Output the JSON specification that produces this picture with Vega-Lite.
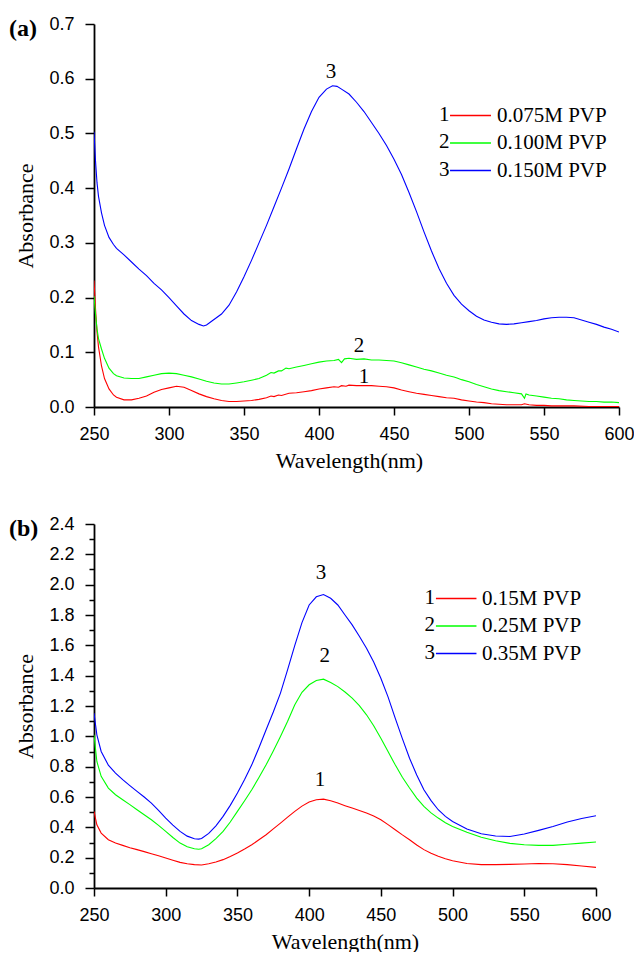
{
  "$schema": "https://vega.github.io/schema/vega-lite/v6.json",
  "background": "white",
  "padding": {"left": 8, "top": 15, "right": 0, "bottom": 0},
  "spacing": 44,
  "config": {
    "view": {"stroke": null},
    "axis": {"grid": false, "domainColor": "black", "domainWidth": 1.8, "tickColor": "black", "tickWidth": 1.5, "labelColor": "black", "labelFont": "Liberation Sans", "labelFontSize": 18, "titleFont": "Liberation Serif", "titleFontSize": 22, "titleFontWeight": "normal", "titleColor": "black", "labelFlush": false, "labelOverlap": false, "labelBound": false},
    "legend": {"labelColor": "black", "labelFont": "Liberation Serif", "labelFontSize": 21, "padding": 0, "rowPadding": 5.5},
    "title": {"font": "Liberation Serif", "fontSize": 24, "fontWeight": "bold", "color": "black", "anchor": "start", "frame": "bounds", "baseline": "middle", "offset": -26, "dx": -6}
  },
  "datasets": {
    "a": [
      {"w":250,"s":"0.075M PVP","a":0.231},{"w":251,"s":"0.075M PVP","a":0.18},{"w":252,"s":"0.075M PVP","a":0.137},{"w":253,"s":"0.075M PVP","a":0.11},{"w":255,"s":"0.075M PVP","a":0.075},{"w":257,"s":"0.075M PVP","a":0.052},{"w":260,"s":"0.075M PVP","a":0.033},{"w":263,"s":"0.075M PVP","a":0.022},{"w":265,"s":"0.075M PVP","a":0.018},{"w":270,"s":"0.075M PVP","a":0.013},{"w":275,"s":"0.075M PVP","a":0.013},{"w":280,"s":"0.075M PVP","a":0.016},{"w":285,"s":"0.075M PVP","a":0.02},{"w":290,"s":"0.075M PVP","a":0.027},{"w":295,"s":"0.075M PVP","a":0.032},{"w":300,"s":"0.075M PVP","a":0.035},{"w":305,"s":"0.075M PVP","a":0.038},{"w":310,"s":"0.075M PVP","a":0.036},{"w":315,"s":"0.075M PVP","a":0.03},{"w":320,"s":"0.075M PVP","a":0.024},{"w":325,"s":"0.075M PVP","a":0.019},{"w":330,"s":"0.075M PVP","a":0.015},{"w":335,"s":"0.075M PVP","a":0.012},{"w":340,"s":"0.075M PVP","a":0.01},{"w":345,"s":"0.075M PVP","a":0.01},{"w":350,"s":"0.075M PVP","a":0.011},{"w":355,"s":"0.075M PVP","a":0.012},{"w":360,"s":"0.075M PVP","a":0.014},{"w":365,"s":"0.075M PVP","a":0.017},{"w":368,"s":"0.075M PVP","a":0.02},{"w":370,"s":"0.075M PVP","a":0.019},{"w":373,"s":"0.075M PVP","a":0.022},{"w":375,"s":"0.075M PVP","a":0.021},{"w":380,"s":"0.075M PVP","a":0.025},{"w":385,"s":"0.075M PVP","a":0.026},{"w":390,"s":"0.075M PVP","a":0.028},{"w":395,"s":"0.075M PVP","a":0.03},{"w":400,"s":"0.075M PVP","a":0.033},{"w":405,"s":"0.075M PVP","a":0.035},{"w":410,"s":"0.075M PVP","a":0.037},{"w":413,"s":"0.075M PVP","a":0.036},{"w":415,"s":"0.075M PVP","a":0.039},{"w":418,"s":"0.075M PVP","a":0.038},{"w":420,"s":"0.075M PVP","a":0.04},{"w":425,"s":"0.075M PVP","a":0.039},{"w":430,"s":"0.075M PVP","a":0.039},{"w":435,"s":"0.075M PVP","a":0.039},{"w":440,"s":"0.075M PVP","a":0.038},{"w":445,"s":"0.075M PVP","a":0.037},{"w":450,"s":"0.075M PVP","a":0.035},{"w":455,"s":"0.075M PVP","a":0.031},{"w":460,"s":"0.075M PVP","a":0.028},{"w":465,"s":"0.075M PVP","a":0.025},{"w":470,"s":"0.075M PVP","a":0.023},{"w":475,"s":"0.075M PVP","a":0.021},{"w":480,"s":"0.075M PVP","a":0.019},{"w":485,"s":"0.075M PVP","a":0.017},{"w":490,"s":"0.075M PVP","a":0.016},{"w":495,"s":"0.075M PVP","a":0.013},{"w":500,"s":"0.075M PVP","a":0.011},{"w":505,"s":"0.075M PVP","a":0.009},{"w":510,"s":"0.075M PVP","a":0.008},{"w":515,"s":"0.075M PVP","a":0.006},{"w":520,"s":"0.075M PVP","a":0.005},{"w":525,"s":"0.075M PVP","a":0.004},{"w":530,"s":"0.075M PVP","a":0.004},{"w":535,"s":"0.075M PVP","a":0.004},{"w":537,"s":"0.075M PVP","a":0.006},{"w":540,"s":"0.075M PVP","a":0.004},{"w":545,"s":"0.075M PVP","a":0.003},{"w":550,"s":"0.075M PVP","a":0.003},{"w":555,"s":"0.075M PVP","a":0.002},{"w":560,"s":"0.075M PVP","a":0.002},{"w":570,"s":"0.075M PVP","a":0.002},{"w":580,"s":"0.075M PVP","a":0.001},{"w":590,"s":"0.075M PVP","a":0.001},{"w":600,"s":"0.075M PVP","a":0.001},
      {"w":250,"s":"0.100M PVP","a":0.203},{"w":251,"s":"0.100M PVP","a":0.17},{"w":252,"s":"0.100M PVP","a":0.143},{"w":253,"s":"0.100M PVP","a":0.125},{"w":255,"s":"0.100M PVP","a":0.106},{"w":257,"s":"0.100M PVP","a":0.089},{"w":260,"s":"0.100M PVP","a":0.071},{"w":263,"s":"0.100M PVP","a":0.061},{"w":265,"s":"0.100M PVP","a":0.057},{"w":270,"s":"0.100M PVP","a":0.053},{"w":275,"s":"0.100M PVP","a":0.052},{"w":280,"s":"0.100M PVP","a":0.052},{"w":285,"s":"0.100M PVP","a":0.055},{"w":290,"s":"0.100M PVP","a":0.058},{"w":295,"s":"0.100M PVP","a":0.061},{"w":300,"s":"0.100M PVP","a":0.062},{"w":305,"s":"0.100M PVP","a":0.061},{"w":310,"s":"0.100M PVP","a":0.058},{"w":315,"s":"0.100M PVP","a":0.055},{"w":320,"s":"0.100M PVP","a":0.051},{"w":325,"s":"0.100M PVP","a":0.047},{"w":330,"s":"0.100M PVP","a":0.044},{"w":335,"s":"0.100M PVP","a":0.042},{"w":340,"s":"0.100M PVP","a":0.042},{"w":345,"s":"0.100M PVP","a":0.044},{"w":350,"s":"0.100M PVP","a":0.046},{"w":355,"s":"0.100M PVP","a":0.049},{"w":360,"s":"0.100M PVP","a":0.052},{"w":365,"s":"0.100M PVP","a":0.058},{"w":368,"s":"0.100M PVP","a":0.063},{"w":370,"s":"0.100M PVP","a":0.062},{"w":373,"s":"0.100M PVP","a":0.066},{"w":375,"s":"0.100M PVP","a":0.066},{"w":378,"s":"0.100M PVP","a":0.071},{"w":380,"s":"0.100M PVP","a":0.07},{"w":385,"s":"0.100M PVP","a":0.073},{"w":390,"s":"0.100M PVP","a":0.076},{"w":395,"s":"0.100M PVP","a":0.079},{"w":400,"s":"0.100M PVP","a":0.082},{"w":405,"s":"0.100M PVP","a":0.084},{"w":410,"s":"0.100M PVP","a":0.085},{"w":413,"s":"0.100M PVP","a":0.087},{"w":415,"s":"0.100M PVP","a":0.081},{"w":417,"s":"0.100M PVP","a":0.088},{"w":420,"s":"0.100M PVP","a":0.089},{"w":425,"s":"0.100M PVP","a":0.087},{"w":430,"s":"0.100M PVP","a":0.088},{"w":435,"s":"0.100M PVP","a":0.086},{"w":440,"s":"0.100M PVP","a":0.086},{"w":445,"s":"0.100M PVP","a":0.085},{"w":450,"s":"0.100M PVP","a":0.084},{"w":455,"s":"0.100M PVP","a":0.081},{"w":460,"s":"0.100M PVP","a":0.077},{"w":465,"s":"0.100M PVP","a":0.073},{"w":470,"s":"0.100M PVP","a":0.069},{"w":475,"s":"0.100M PVP","a":0.066},{"w":480,"s":"0.100M PVP","a":0.062},{"w":485,"s":"0.100M PVP","a":0.058},{"w":490,"s":"0.100M PVP","a":0.055},{"w":492,"s":"0.100M PVP","a":0.053},{"w":495,"s":"0.100M PVP","a":0.05},{"w":500,"s":"0.100M PVP","a":0.046},{"w":505,"s":"0.100M PVP","a":0.041},{"w":510,"s":"0.100M PVP","a":0.037},{"w":515,"s":"0.100M PVP","a":0.033},{"w":520,"s":"0.100M PVP","a":0.03},{"w":525,"s":"0.100M PVP","a":0.028},{"w":530,"s":"0.100M PVP","a":0.026},{"w":535,"s":"0.100M PVP","a":0.024},{"w":537,"s":"0.100M PVP","a":0.016},{"w":538,"s":"0.100M PVP","a":0.024},{"w":540,"s":"0.100M PVP","a":0.022},{"w":545,"s":"0.100M PVP","a":0.02},{"w":550,"s":"0.100M PVP","a":0.018},{"w":555,"s":"0.100M PVP","a":0.016},{"w":560,"s":"0.100M PVP","a":0.015},{"w":565,"s":"0.100M PVP","a":0.013},{"w":570,"s":"0.100M PVP","a":0.012},{"w":575,"s":"0.100M PVP","a":0.011},{"w":580,"s":"0.100M PVP","a":0.01},{"w":585,"s":"0.100M PVP","a":0.01},{"w":590,"s":"0.100M PVP","a":0.009},{"w":595,"s":"0.100M PVP","a":0.009},{"w":600,"s":"0.100M PVP","a":0.008},
      {"w":250,"s":"0.150M PVP","a":0.503},{"w":251,"s":"0.150M PVP","a":0.45},{"w":252,"s":"0.150M PVP","a":0.41},{"w":253,"s":"0.150M PVP","a":0.385},{"w":255,"s":"0.150M PVP","a":0.355},{"w":257,"s":"0.150M PVP","a":0.332},{"w":260,"s":"0.150M PVP","a":0.31},{"w":263,"s":"0.150M PVP","a":0.297},{"w":265,"s":"0.150M PVP","a":0.29},{"w":270,"s":"0.150M PVP","a":0.278},{"w":275,"s":"0.150M PVP","a":0.265},{"w":280,"s":"0.150M PVP","a":0.252},{"w":285,"s":"0.150M PVP","a":0.24},{"w":290,"s":"0.150M PVP","a":0.226},{"w":295,"s":"0.150M PVP","a":0.214},{"w":300,"s":"0.150M PVP","a":0.2},{"w":305,"s":"0.150M PVP","a":0.185},{"w":310,"s":"0.150M PVP","a":0.17},{"w":315,"s":"0.150M PVP","a":0.158},{"w":320,"s":"0.150M PVP","a":0.151},{"w":323,"s":"0.150M PVP","a":0.148},{"w":325,"s":"0.150M PVP","a":0.15},{"w":330,"s":"0.150M PVP","a":0.16},{"w":335,"s":"0.150M PVP","a":0.17},{"w":340,"s":"0.150M PVP","a":0.186},{"w":345,"s":"0.150M PVP","a":0.21},{"w":350,"s":"0.150M PVP","a":0.238},{"w":355,"s":"0.150M PVP","a":0.268},{"w":360,"s":"0.150M PVP","a":0.3},{"w":365,"s":"0.150M PVP","a":0.332},{"w":370,"s":"0.150M PVP","a":0.366},{"w":375,"s":"0.150M PVP","a":0.4},{"w":380,"s":"0.150M PVP","a":0.435},{"w":385,"s":"0.150M PVP","a":0.472},{"w":390,"s":"0.150M PVP","a":0.508},{"w":395,"s":"0.150M PVP","a":0.54},{"w":400,"s":"0.150M PVP","a":0.566},{"w":405,"s":"0.150M PVP","a":0.581},{"w":409,"s":"0.150M PVP","a":0.587},{"w":412,"s":"0.150M PVP","a":0.586},{"w":415,"s":"0.150M PVP","a":0.581},{"w":420,"s":"0.150M PVP","a":0.572},{"w":425,"s":"0.150M PVP","a":0.557},{"w":430,"s":"0.150M PVP","a":0.54},{"w":435,"s":"0.150M PVP","a":0.52},{"w":440,"s":"0.150M PVP","a":0.5},{"w":445,"s":"0.150M PVP","a":0.478},{"w":450,"s":"0.150M PVP","a":0.453},{"w":455,"s":"0.150M PVP","a":0.425},{"w":460,"s":"0.150M PVP","a":0.392},{"w":465,"s":"0.150M PVP","a":0.357},{"w":470,"s":"0.150M PVP","a":0.32},{"w":475,"s":"0.150M PVP","a":0.285},{"w":480,"s":"0.150M PVP","a":0.253},{"w":485,"s":"0.150M PVP","a":0.226},{"w":490,"s":"0.150M PVP","a":0.204},{"w":495,"s":"0.150M PVP","a":0.188},{"w":500,"s":"0.150M PVP","a":0.176},{"w":505,"s":"0.150M PVP","a":0.166},{"w":510,"s":"0.150M PVP","a":0.159},{"w":515,"s":"0.150M PVP","a":0.155},{"w":520,"s":"0.150M PVP","a":0.152},{"w":525,"s":"0.150M PVP","a":0.151},{"w":530,"s":"0.150M PVP","a":0.152},{"w":535,"s":"0.150M PVP","a":0.154},{"w":540,"s":"0.150M PVP","a":0.156},{"w":545,"s":"0.150M PVP","a":0.158},{"w":550,"s":"0.150M PVP","a":0.161},{"w":555,"s":"0.150M PVP","a":0.163},{"w":560,"s":"0.150M PVP","a":0.164},{"w":565,"s":"0.150M PVP","a":0.164},{"w":570,"s":"0.150M PVP","a":0.163},{"w":575,"s":"0.150M PVP","a":0.159},{"w":580,"s":"0.150M PVP","a":0.155},{"w":585,"s":"0.150M PVP","a":0.151},{"w":590,"s":"0.150M PVP","a":0.146},{"w":595,"s":"0.150M PVP","a":0.142},{"w":600,"s":"0.150M PVP","a":0.137}
    ],
    "b": [
      {"w":250,"s":"0.15M PVP","a":0.505},{"w":252,"s":"0.15M PVP","a":0.417},{"w":255,"s":"0.15M PVP","a":0.362},{"w":260,"s":"0.15M PVP","a":0.318},{"w":265,"s":"0.15M PVP","a":0.296},{"w":270,"s":"0.15M PVP","a":0.281},{"w":275,"s":"0.15M PVP","a":0.266},{"w":280,"s":"0.15M PVP","a":0.253},{"w":285,"s":"0.15M PVP","a":0.24},{"w":290,"s":"0.15M PVP","a":0.226},{"w":295,"s":"0.15M PVP","a":0.212},{"w":300,"s":"0.15M PVP","a":0.198},{"w":305,"s":"0.15M PVP","a":0.183},{"w":310,"s":"0.15M PVP","a":0.169},{"w":315,"s":"0.15M PVP","a":0.16},{"w":320,"s":"0.15M PVP","a":0.154},{"w":325,"s":"0.15M PVP","a":0.152},{"w":330,"s":"0.15M PVP","a":0.16},{"w":335,"s":"0.15M PVP","a":0.172},{"w":340,"s":"0.15M PVP","a":0.187},{"w":345,"s":"0.15M PVP","a":0.208},{"w":350,"s":"0.15M PVP","a":0.231},{"w":355,"s":"0.15M PVP","a":0.257},{"w":360,"s":"0.15M PVP","a":0.285},{"w":365,"s":"0.15M PVP","a":0.318},{"w":370,"s":"0.15M PVP","a":0.351},{"w":375,"s":"0.15M PVP","a":0.39},{"w":380,"s":"0.15M PVP","a":0.428},{"w":385,"s":"0.15M PVP","a":0.467},{"w":390,"s":"0.15M PVP","a":0.505},{"w":395,"s":"0.15M PVP","a":0.54},{"w":400,"s":"0.15M PVP","a":0.567},{"w":405,"s":"0.15M PVP","a":0.582},{"w":410,"s":"0.15M PVP","a":0.586},{"w":415,"s":"0.15M PVP","a":0.575},{"w":420,"s":"0.15M PVP","a":0.56},{"w":425,"s":"0.15M PVP","a":0.543},{"w":430,"s":"0.15M PVP","a":0.527},{"w":435,"s":"0.15M PVP","a":0.511},{"w":440,"s":"0.15M PVP","a":0.494},{"w":445,"s":"0.15M PVP","a":0.474},{"w":450,"s":"0.15M PVP","a":0.45},{"w":455,"s":"0.15M PVP","a":0.418},{"w":460,"s":"0.15M PVP","a":0.384},{"w":465,"s":"0.15M PVP","a":0.35},{"w":470,"s":"0.15M PVP","a":0.318},{"w":475,"s":"0.15M PVP","a":0.284},{"w":480,"s":"0.15M PVP","a":0.253},{"w":485,"s":"0.15M PVP","a":0.229},{"w":490,"s":"0.15M PVP","a":0.209},{"w":495,"s":"0.15M PVP","a":0.193},{"w":500,"s":"0.15M PVP","a":0.18},{"w":510,"s":"0.15M PVP","a":0.162},{"w":520,"s":"0.15M PVP","a":0.154},{"w":530,"s":"0.15M PVP","a":0.154},{"w":540,"s":"0.15M PVP","a":0.156},{"w":550,"s":"0.15M PVP","a":0.158},{"w":560,"s":"0.15M PVP","a":0.162},{"w":570,"s":"0.15M PVP","a":0.16},{"w":580,"s":"0.15M PVP","a":0.154},{"w":590,"s":"0.15M PVP","a":0.145},{"w":600,"s":"0.15M PVP","a":0.136},
      {"w":250,"s":"0.25M PVP","a":1.01},{"w":252,"s":"0.25M PVP","a":0.834},{"w":255,"s":"0.25M PVP","a":0.736},{"w":260,"s":"0.25M PVP","a":0.659},{"w":265,"s":"0.25M PVP","a":0.615},{"w":270,"s":"0.25M PVP","a":0.582},{"w":275,"s":"0.25M PVP","a":0.55},{"w":280,"s":"0.25M PVP","a":0.516},{"w":285,"s":"0.25M PVP","a":0.483},{"w":290,"s":"0.25M PVP","a":0.45},{"w":295,"s":"0.25M PVP","a":0.413},{"w":300,"s":"0.25M PVP","a":0.373},{"w":305,"s":"0.25M PVP","a":0.333},{"w":310,"s":"0.25M PVP","a":0.296},{"w":315,"s":"0.25M PVP","a":0.272},{"w":320,"s":"0.25M PVP","a":0.259},{"w":323,"s":"0.25M PVP","a":0.256},{"w":325,"s":"0.25M PVP","a":0.259},{"w":330,"s":"0.25M PVP","a":0.285},{"w":335,"s":"0.25M PVP","a":0.325},{"w":340,"s":"0.25M PVP","a":0.373},{"w":345,"s":"0.25M PVP","a":0.435},{"w":350,"s":"0.25M PVP","a":0.505},{"w":355,"s":"0.25M PVP","a":0.575},{"w":360,"s":"0.25M PVP","a":0.648},{"w":365,"s":"0.25M PVP","a":0.728},{"w":370,"s":"0.25M PVP","a":0.812},{"w":375,"s":"0.25M PVP","a":0.903},{"w":380,"s":"0.25M PVP","a":0.999},{"w":385,"s":"0.25M PVP","a":1.1},{"w":390,"s":"0.25M PVP","a":1.208},{"w":395,"s":"0.25M PVP","a":1.29},{"w":400,"s":"0.25M PVP","a":1.34},{"w":405,"s":"0.25M PVP","a":1.368},{"w":410,"s":"0.25M PVP","a":1.377},{"w":415,"s":"0.25M PVP","a":1.355},{"w":420,"s":"0.25M PVP","a":1.328},{"w":425,"s":"0.25M PVP","a":1.292},{"w":430,"s":"0.25M PVP","a":1.252},{"w":435,"s":"0.25M PVP","a":1.202},{"w":440,"s":"0.25M PVP","a":1.142},{"w":445,"s":"0.25M PVP","a":1.07},{"w":450,"s":"0.25M PVP","a":0.988},{"w":455,"s":"0.25M PVP","a":0.9},{"w":460,"s":"0.25M PVP","a":0.812},{"w":465,"s":"0.25M PVP","a":0.73},{"w":470,"s":"0.25M PVP","a":0.659},{"w":475,"s":"0.25M PVP","a":0.593},{"w":480,"s":"0.25M PVP","a":0.538},{"w":485,"s":"0.25M PVP","a":0.495},{"w":490,"s":"0.25M PVP","a":0.461},{"w":495,"s":"0.25M PVP","a":0.43},{"w":500,"s":"0.25M PVP","a":0.406},{"w":510,"s":"0.25M PVP","a":0.367},{"w":520,"s":"0.25M PVP","a":0.334},{"w":530,"s":"0.25M PVP","a":0.312},{"w":540,"s":"0.25M PVP","a":0.294},{"w":550,"s":"0.25M PVP","a":0.285},{"w":560,"s":"0.25M PVP","a":0.281},{"w":570,"s":"0.25M PVP","a":0.281},{"w":580,"s":"0.25M PVP","a":0.288},{"w":590,"s":"0.25M PVP","a":0.296},{"w":600,"s":"0.25M PVP","a":0.303},
      {"w":250,"s":"0.35M PVP","a":1.153},{"w":252,"s":"0.35M PVP","a":1.01},{"w":255,"s":"0.35M PVP","a":0.9},{"w":260,"s":"0.35M PVP","a":0.81},{"w":265,"s":"0.35M PVP","a":0.758},{"w":270,"s":"0.35M PVP","a":0.714},{"w":275,"s":"0.35M PVP","a":0.675},{"w":280,"s":"0.35M PVP","a":0.637},{"w":285,"s":"0.35M PVP","a":0.6},{"w":290,"s":"0.35M PVP","a":0.56},{"w":295,"s":"0.35M PVP","a":0.512},{"w":300,"s":"0.35M PVP","a":0.461},{"w":305,"s":"0.35M PVP","a":0.415},{"w":310,"s":"0.35M PVP","a":0.373},{"w":315,"s":"0.35M PVP","a":0.342},{"w":320,"s":"0.35M PVP","a":0.325},{"w":323,"s":"0.35M PVP","a":0.322},{"w":325,"s":"0.35M PVP","a":0.326},{"w":330,"s":"0.35M PVP","a":0.36},{"w":335,"s":"0.35M PVP","a":0.41},{"w":340,"s":"0.35M PVP","a":0.472},{"w":345,"s":"0.35M PVP","a":0.545},{"w":350,"s":"0.35M PVP","a":0.626},{"w":355,"s":"0.35M PVP","a":0.715},{"w":360,"s":"0.35M PVP","a":0.812},{"w":365,"s":"0.35M PVP","a":0.925},{"w":370,"s":"0.35M PVP","a":1.043},{"w":375,"s":"0.35M PVP","a":1.16},{"w":380,"s":"0.35M PVP","a":1.285},{"w":385,"s":"0.35M PVP","a":1.44},{"w":390,"s":"0.35M PVP","a":1.6},{"w":395,"s":"0.35M PVP","a":1.75},{"w":400,"s":"0.35M PVP","a":1.866},{"w":405,"s":"0.35M PVP","a":1.92},{"w":410,"s":"0.35M PVP","a":1.935},{"w":415,"s":"0.35M PVP","a":1.91},{"w":420,"s":"0.35M PVP","a":1.866},{"w":425,"s":"0.35M PVP","a":1.8},{"w":430,"s":"0.35M PVP","a":1.735},{"w":435,"s":"0.35M PVP","a":1.66},{"w":440,"s":"0.35M PVP","a":1.581},{"w":445,"s":"0.35M PVP","a":1.49},{"w":450,"s":"0.35M PVP","a":1.383},{"w":455,"s":"0.35M PVP","a":1.26},{"w":460,"s":"0.35M PVP","a":1.12},{"w":465,"s":"0.35M PVP","a":0.985},{"w":470,"s":"0.35M PVP","a":0.856},{"w":475,"s":"0.35M PVP","a":0.745},{"w":480,"s":"0.35M PVP","a":0.648},{"w":485,"s":"0.35M PVP","a":0.576},{"w":490,"s":"0.35M PVP","a":0.516},{"w":495,"s":"0.35M PVP","a":0.472},{"w":500,"s":"0.35M PVP","a":0.439},{"w":510,"s":"0.35M PVP","a":0.389},{"w":520,"s":"0.35M PVP","a":0.358},{"w":530,"s":"0.35M PVP","a":0.343},{"w":540,"s":"0.35M PVP","a":0.34},{"w":550,"s":"0.35M PVP","a":0.356},{"w":560,"s":"0.35M PVP","a":0.38},{"w":570,"s":"0.35M PVP","a":0.406},{"w":580,"s":"0.35M PVP","a":0.435},{"w":590,"s":"0.35M PVP","a":0.458},{"w":600,"s":"0.35M PVP","a":0.476}
    ],
    "la": [{"w":408,"a":0.612,"t":"3"},{"w":426.7,"a":0.111,"t":"2"},{"w":430,"a":0.055,"t":"1"}],
    "lb": [{"w":408.3,"a":2.077,"t":"3"},{"w":410.8,"a":1.53,"t":"2"},{"w":407.6,"a":0.714,"t":"1"}]
  },
  "vconcat": [
    {
      "width": 525,
      "height": 383,
      "title": {"text": "(a)"},
      "layer": [
        {
          "data": {"name": "a"},
          "mark": {"type": "line", "strokeWidth": 1.1, "clip": true},
          "encoding": {
            "x": {"field": "w", "type": "quantitative", "scale": {"domain": [250, 600], "nice": false, "zero": false},
              "axis": {"title": "Wavelength(nm)", "titleX": 255, "values": [250,275,300,325,350,375,400,425,450,475,500,525,550,575,600], "labelExpr": "datum.value % 50 == 0 ? datum.label : ''", "tickSize": {"condition": {"test": "datum.value % 50 == 0", "value": 8}, "value": 4}, "labelPadding": 10, "titlePadding": 7, "format": "d", "labelOverlap": false}},
            "y": {"field": "a", "type": "quantitative", "scale": {"domain": [0, 0.7], "nice": false},
              "axis": {"title": "Absorbance", "values": [0,0.05,0.1,0.15,0.2,0.25,0.3,0.35,0.4,0.45,0.5,0.55,0.6,0.65,0.7], "labelExpr": "round(datum.value*100) % 10 == 0 ? format(datum.value, '.1f') : ''", "tickSize": {"condition": {"test": "round(datum.value*100) % 10 == 0", "value": 9}, "value": 5}, "labelPadding": 11, "titlePadding": 11, "labelOverlap": false}},
            "color": {"field": "s", "type": "nominal", "scale": {"domain": ["0.075M PVP","0.100M PVP","0.150M PVP"], "range": ["#ff0000","#00ff00","#0000ff"]},
              "legend": {"orient": "none", "legendX": 365, "legendY": 80, "title": null, "symbolType": "M-1.95,0L1.95,0", "symbolSize": 441, "symbolStrokeWidth": 1.3, "labelOffset": 15}}
          }
        },
        {
          "data": {"name": "la"},
          "mark": {"type": "text", "font": "Liberation Serif", "fontSize": 21, "color": "black", "baseline": "middle", "align": "center"},
          "encoding": {
            "x": {"field": "w", "type": "quantitative"},
            "y": {"field": "a", "type": "quantitative"},
            "text": {"field": "t"},
            "opacity": {"field": "t", "type": "ordinal", "scale": {"domain": ["1","2","3"], "range": [1,1,1]},
              "legend": {"orient": "none", "legendX": 324, "legendY": 80, "title": null, "symbolType": "M0,0L0,0", "symbolStrokeWidth": 0, "symbolSize": 441, "labelAlign": "left", "labelOffset": 0}}
          }
        }
      ]
    },
    {
      "width": 502,
      "height": 364,
      "title": {"text": "(b)"},
      "resolve": {"axis": {"y": "independent"}},
      "layer": [
        {
          "data": {"name": "b"},
          "mark": {"type": "line", "strokeWidth": 1.1, "clip": true},
          "encoding": {
            "x": {"field": "w", "type": "quantitative", "scale": {"domain": [250, 600], "nice": false, "zero": false},
              "axis": {"title": "Wavelength(nm)", "values": [250,275,300,325,350,375,400,425,450,475,500,525,550,575,600], "labelExpr": "datum.value % 50 == 0 ? datum.label : ''", "tickSize": {"condition": {"test": "datum.value % 50 == 0", "value": 8}, "value": 4}, "labelPadding": 10, "titlePadding": 7, "format": "d", "labelOverlap": false}},
            "y": {"field": "a", "type": "quantitative", "scale": {"domain": [0, 2.4], "nice": false},
              "axis": {"title": "Absorbance", "orient": "left", "values": [0,0.2,0.4,0.6,0.8,1.0,1.2,1.4,1.6,1.8,2.0,2.2,2.4], "format": ".1f", "tickSize": 9, "labelPadding": 11, "titlePadding": 11, "labelOverlap": false}},
            "color": {"field": "s", "type": "nominal", "scale": {"domain": ["0.15M PVP","0.25M PVP","0.35M PVP"], "range": ["#ff0000","#00ff00","#0000ff"]},
              "legend": {"orient": "none", "legendX": 350.7, "legendY": 63, "title": null, "symbolType": "M-1.93,0L1.93,0", "symbolSize": 441, "symbolStrokeWidth": 1.3, "labelOffset": 14.3}}
          }
        },
        {
          "data": {"name": "lb"},
          "mark": {"type": "text", "font": "Liberation Serif", "fontSize": 21, "color": "black", "baseline": "middle", "align": "center"},
          "encoding": {
            "x": {"field": "w", "type": "quantitative"},
            "y": {"field": "a", "type": "quantitative", "axis": {"orient": "left", "values": [0.1,0.3,0.5,0.7,0.9,1.1,1.3,1.5,1.7,1.9,2.1,2.3], "labels": false, "domain": false, "title": null, "tickSize": 5}},
            "text": {"field": "t"},
            "opacity": {"field": "t", "type": "ordinal", "scale": {"domain": ["1","2","3"], "range": [1,1,1]},
              "legend": {"orient": "none", "legendX": 309.5, "legendY": 63, "title": null, "symbolType": "M0,0L0,0", "symbolStrokeWidth": 0, "symbolSize": 441, "labelAlign": "left", "labelOffset": 0}}
          }
        }
      ]
    }
  ],
  "resolve": {"scale": {"color": "independent", "opacity": "independent", "x": "independent", "y": "independent"}, "legend": {"color": "independent", "opacity": "independent"}}
}
